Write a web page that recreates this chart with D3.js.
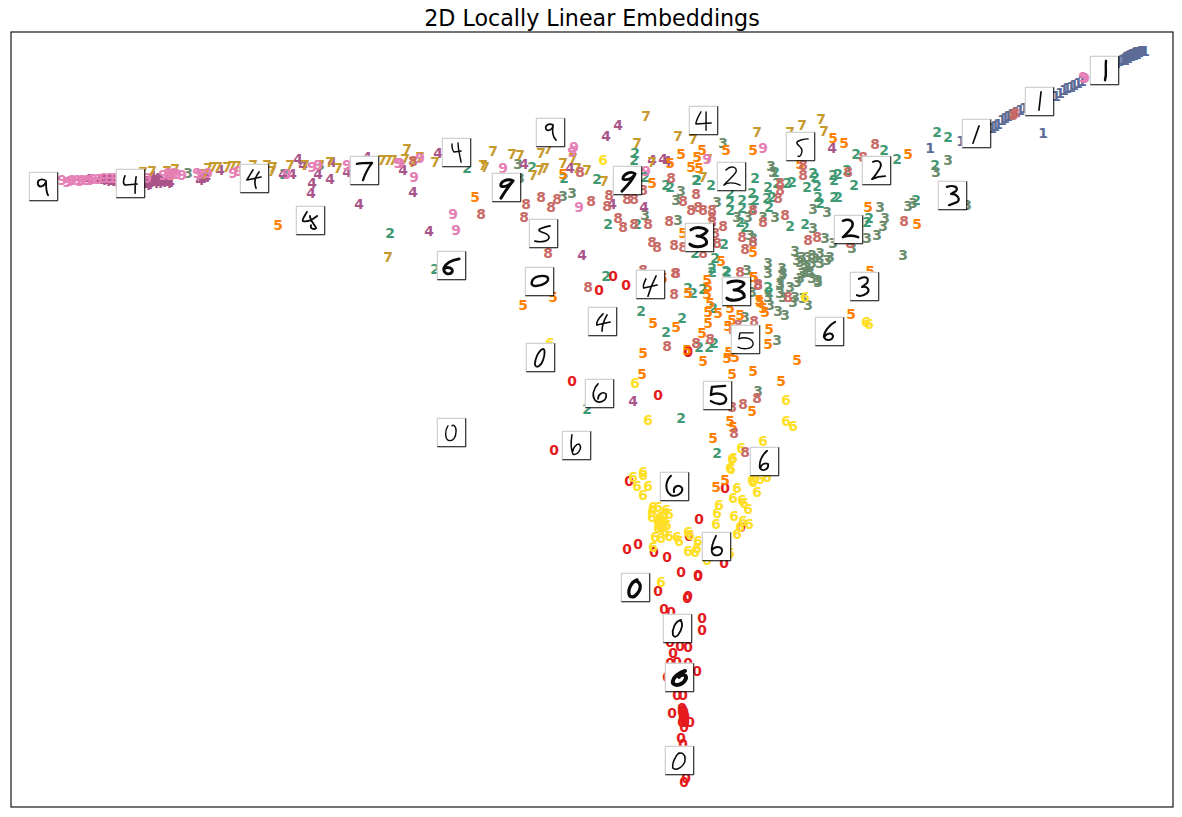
<!DOCTYPE html>
<html>
<head>
<meta charset="utf-8">
<script src="https://cdn.jsdelivr.net/npm/d3@7"></script>
<style>
  html, body { margin: 0; padding: 0; background: #fff; }
  svg { display: block; }
</style>
</head>
<body>
<svg id="chart" width="1182" height="817"></svg>
<script>
// embedding positions, one list per digit class
var digit0 = [[613,276],[626,285],[599,290],[688,352],[688,351],[572,381],[658,395],[554,450],[629,481],[725,488],[699,519],[741,527],[689,536],[638,544],[627,549],[654,552],[667,557],[724,563],[681,572],[698,575],[698,576],[658,591],[688,596],[687,598],[664,609],[671,612],[702,618],[702,630],[670,642],[680,646],[688,647],[673,653],[670,663],[677,662],[688,663],[697,671],[667,677],[677,695],[683,695],[672,713],[682,708],[682,712],[683,715],[683,718],[682,722],[685,722],[690,722],[684,727],[681,738],[683,744],[686,778],[684,782],[684,712],[683,710],[685,716],[684,720]];
var digit1 = [[930,148],[1043,133],[961,141],[992,128],[995,126],[998,124],[1002,120],[1005,118],[1008,116],[1012,114],[1016,112],[1020,110],[1024,108],[1028,107],[1056,96],[1060,93],[1064,90],[1067,88],[1071,87],[1074,85],[1078,83],[1082,81],[1116,63],[1119,61],[1122,60],[1124,59],[1126,57],[1128,56],[1130,55],[1132,54],[1133,54],[1135,53],[1136,52],[1138,52],[1139,52],[1141,51],[1142,51],[1144,51],[1145,51],[1125,60],[1128,58],[1131,56],[1134,55],[1137,54]];
var digit2 = [[937,132],[948,137],[935,165],[856,154],[884,150],[897,159],[755,178],[697,180],[711,185],[775,172],[768,187],[777,183],[787,183],[792,182],[807,187],[813,173],[815,177],[817,186],[818,197],[833,175],[838,174],[847,170],[854,185],[834,180],[834,197],[838,197],[820,203],[769,207],[767,198],[772,197],[752,193],[755,200],[730,193],[730,202],[730,210],[742,200],[742,208],[740,222],[745,227],[752,208],[790,226],[805,224],[724,244],[695,253],[712,268],[726,271],[715,258],[768,287],[769,292],[693,293],[703,289],[869,218],[867,222],[916,200],[467,168],[532,167],[564,178],[597,179],[635,153],[634,160],[608,224],[637,224],[666,185],[670,187],[696,180],[435,269],[606,276],[645,177],[641,311],[682,318],[666,332],[699,347],[709,347],[714,343],[587,409],[681,418],[717,453],[688,288],[712,272],[727,272],[713,308],[390,233],[284,174]];
var digit3 = [[723,143],[771,166],[773,172],[948,160],[936,172],[813,209],[827,212],[880,207],[908,206],[913,203],[885,218],[883,226],[877,235],[903,255],[867,238],[852,248],[833,243],[825,238],[813,228],[717,202],[737,217],[748,217],[763,217],[775,217],[750,235],[753,238],[795,251],[797,260],[802,257],[808,257],[812,255],[820,253],[830,257],[827,260],[820,263],[812,263],[807,267],[802,273],[797,282],[812,278],[818,282],[768,263],[768,273],[782,268],[782,275],[780,283],[790,287],[780,293],[747,270],[752,292],[768,297],[795,297],[783,273],[803,273],[810,272],[818,280],[780,285],[783,297],[793,302],[803,298],[808,305],[770,305],[778,311],[785,315],[745,317],[777,340],[758,391],[518,164],[563,196],[572,193],[681,191],[676,200],[645,215],[678,220],[520,178],[188,173],[320,165],[967,205],[800,262],[805,265],[815,258],[805,272],[800,278]];
var digit4 = [[88,179],[100,179],[105,179],[108,180],[112,181],[115,182],[147,185],[150,178],[157,178],[167,180],[170,182],[153,180],[160,180],[203,178],[220,170],[298,159],[283,174],[292,174],[303,165],[318,174],[330,179],[347,172],[312,183],[311,193],[359,204],[332,162],[367,157],[152,176],[243,173],[403,170],[413,192],[429,231],[438,153],[524,164],[570,168],[618,125],[606,136],[652,160],[663,159],[667,161],[644,207],[612,204],[582,255],[832,148],[633,401],[110,180],[155,183],[163,182],[150,182],[103,180],[107,181],[111,179],[114,180],[117,180],[146,181],[149,184],[156,181],[159,183],[165,181],[168,183],[200,180],[206,177]];
var digit5 = [[171,175],[278,225],[475,197],[563,174],[681,154],[670,163],[652,183],[697,157],[691,167],[699,168],[683,233],[553,297],[663,278],[688,293],[833,138],[844,143],[908,154],[753,150],[726,150],[702,150],[917,224],[868,207],[800,164],[753,252],[721,261],[754,277],[707,280],[708,287],[759,300],[870,271],[523,305],[653,323],[676,327],[643,353],[642,374],[702,333],[708,323],[718,313],[710,303],[708,312],[707,294],[730,308],[728,326],[740,315],[732,320],[760,302],[765,312],[763,308],[769,329],[768,344],[729,352],[727,358],[735,357],[703,361],[687,350],[797,360],[732,374],[753,371],[781,381],[752,411],[730,421],[733,427],[713,438],[851,314],[753,277],[716,487],[725,480]];
var digit6 = [[603,160],[805,297],[635,383],[648,420],[786,400],[786,421],[793,426],[763,441],[741,448],[732,459],[730,468],[550,343],[866,322],[869,324],[633,477],[643,472],[643,475],[637,486],[648,486],[643,495],[653,507],[652,512],[652,517],[658,507],[666,510],[669,514],[660,517],[663,518],[658,522],[665,522],[662,525],[667,525],[658,528],[665,532],[655,537],[661,538],[669,536],[677,537],[679,541],[688,532],[690,535],[698,541],[697,548],[688,551],[695,552],[653,547],[661,582],[733,458],[731,469],[737,488],[733,498],[742,500],[744,503],[748,509],[757,492],[752,480],[753,482],[760,479],[767,477],[719,505],[717,513],[716,524],[734,516],[743,521],[749,524],[737,534],[740,527],[707,560],[730,553],[660,520],[663,522],[661,527],[664,515]];
var digit7 = [[152,171],[143,172],[167,171],[175,169],[205,174],[208,168],[213,167],[218,167],[227,167],[232,166],[237,166],[253,165],[267,165],[273,167],[272,171],[290,165],[305,165],[320,165],[330,162],[338,168],[382,160],[388,160],[393,160],[388,257],[407,149],[405,159],[420,157],[435,162],[493,151],[512,154],[520,155],[483,165],[485,167],[541,153],[548,149],[563,163],[573,158],[533,175],[540,170],[545,168],[577,168],[587,170],[604,181],[637,143],[646,116],[678,136],[693,139],[652,162],[413,162],[757,132],[708,159],[703,177],[802,125],[821,119],[824,131],[790,132]];
var digit8 = [[413,161],[481,214],[526,204],[541,197],[551,207],[557,199],[524,217],[548,253],[580,172],[591,201],[609,195],[607,206],[618,218],[623,227],[634,224],[648,224],[627,199],[634,199],[671,178],[683,201],[669,221],[691,210],[696,194],[698,207],[652,242],[657,247],[674,245],[683,247],[676,273],[674,294],[588,287],[643,270],[643,190],[703,210],[712,210],[712,217],[712,222],[723,226],[715,233],[717,243],[742,237],[745,249],[753,242],[740,272],[758,284],[780,183],[780,190],[778,198],[753,210],[763,222],[785,215],[803,175],[803,165],[848,172],[875,144],[863,157],[904,221],[808,240],[817,237],[850,243],[703,253],[788,297],[675,273],[758,285],[754,321],[738,325],[733,330],[696,343],[710,339],[667,346],[732,407],[743,404],[757,398],[734,433],[745,452],[1015,113],[1013,115]];
var digit9 = [[62,180],[67,182],[72,180],[77,180],[82,180],[87,180],[93,179],[98,179],[115,178],[147,178],[163,175],[168,173],[177,174],[182,175],[197,173],[200,174],[208,173],[233,173],[238,171],[287,174],[312,167],[318,165],[347,165],[398,163],[400,163],[420,158],[414,177],[453,214],[456,230],[503,168],[574,147],[572,152],[579,207],[646,171],[707,159],[763,148],[1083,77],[1085,78],[70,181],[80,181],[90,180],[104,178],[110,178],[170,175],[174,173]];

var digitLists = [digit0, digit1, digit2, digit3, digit4, digit5, digit6, digit7, digit8, digit9];
var digitColors = ["#e41a1c", "#5b6b95", "#3f9a74", "#6b8c6c", "#a9558a", "#ff7f00", "#ffdf26", "#c79a2e", "#c96a66", "#e57fb6"];

// thumbnails of the handwritten samples: centre in the same units, stroke of the digit in a 28x28 cell
var thumbX = [43,130,254,364,310,456,550,506,543,451,539,540,451,650,602,599,576,627,703,731,699,736,745,717,800,876,848,864,829,952,976,1039,1104,764,674,716,635,677,679,679];
var thumbY = [186,183,178,170,220,152,132,187,233,265,281,357,432,284,321,393,445,180,120,176,237,291,339,395,146,170,229,286,331,195,133,101,70,461,486,546,587,628,677,760];
var thumbInk = [1.8,1.6,1.6,2.2,1.8,1.4,1.6,2.8,1.6,2.8,2.4,1.8,1.4,1.6,1.6,1.6,1.5,2.8,1.4,1.4,2.9,2.9,1.3,2.3,1.4,1.8,2.5,2,2,2.2,1.6,1.6,2.4,1.8,2,1.8,3.2,1.8,3.8,1.5];
var thumbStrokes = [
  "M17 9C13 6 8 8 9 12C10 16 15 15 17 10C17 15 17 20 19 23",
  "M9 7C7 12 7 16 10 16L21 15M20 8C19 14 19 19 19 24",
  "M13 6C10 11 8 14 7 16L21 13M19 8C15 13 14 19 16 24",
  "M7 8C12 7 17 7 22 7C18 12 15 18 13 24",
  "M11 6C9 10 6 13 7 15C11 16 16 14 21 10M14 10C14 14 18 18 20 22C17 24 14 22 15 19",
  "M10 6C10 10 11 13 12 14L19 13M16 5C16 12 18 18 19 24",
  "M17 7C12 5 9 8 10 11C12 14 16 12 17 8C16 13 17 19 20 22",
  "M21 8C15 5 8 9 9 13C12 15 18 12 21 8C17 13 13 18 9 25",
  "M21 7C16 8 11 9 10 11C10 14 19 13 20 18C20 23 11 23 6 22",
  "M22 8C16 9 9 12 7 17C6 23 13 24 15 21C17 17 10 15 7 18",
  "M7 15C8 9 18 8 22 10C26 14 17 19 11 19C8 19 6 17 7 15",
  "M17 6C12 8 9 17 9 21C10 26 15 23 17 17C19 12 19 6 17 6",
  "M11 8C8 12 8 20 11 22C16 24 19 19 19 13C19 8 16 6 15 8",
  "M10 9C8 13 7 17 8 18L21 15M20 6C17 12 14 19 12 26",
  "M15 7C11 11 8 15 9 18L22 15M19 8C16 13 14 18 14 24",
  "M13 5C8 10 7 17 10 21C14 25 22 22 21 15C18 12 13 15 13 20",
  "M10 4C9 10 9 18 11 23C15 25 21 17 17 13C14 13 11 17 11 20",
  "M22 8C17 4 10 9 10 13C14 15 20 12 22 8C19 15 14 20 9 25",
  "M12 6C9 11 7 15 7 18L22 17M17 6L17 24",
  "M9 8C14 3 20 5 19 10C16 15 8 21 7 23C10 20 17 20 23 23",
  "M6 7C11 3 20 5 22 8C20 12 14 14 12 13C17 13 23 16 21 21C16 25 8 24 5 21",
  "M6 6C11 3 21 4 22 7C20 11 14 13 12 13C17 13 23 15 22 20C16 24 8 24 5 21",
  "M22 8L9 8L8 14C14 11 22 14 22 19C21 25 11 24 7 22",
  "M22 5L9 6L8 14C14 11 22 13 23 18C23 24 14 24 8 20",
  "M22 7C17 7 12 9 11 10C10 13 15 14 16 18C16 22 14 25 12 24",
  "M11 6C18 3 20 8 18 12C15 17 12 21 10 23C14 21 19 20 23 20",
  "M9 6C16 3 20 7 18 12C15 17 11 20 9 22C14 20 19 20 24 22",
  "M9 7C14 4 20 5 17 11L12 15C18 14 20 18 17 21C13 24 9 24 7 23",
  "M20 5C14 8 9 15 9 20C11 24 17 24 18 19C17 15 12 16 10 19",
  "M9 6C15 4 21 6 18 10L13 13C19 13 23 18 19 21L11 24",
  "M17 7L11 24",
  "M16 5L14 23",
  "M16 5C15 12 17 17 15 24",
  "M17 4C11 9 9 16 10 21C13 25 19 22 18 17C15 15 11 18 11 20",
  "M11 4C5 10 5 19 11 23C17 25 23 21 22 16C19 12 13 14 14 20",
  "M14 4C11 10 9 16 10 20C12 25 20 24 20 18C19 14 13 14 10 18",
  "M16 7C10 9 6 18 9 23C14 26 20 17 19 12C18 9 15 7 13 9",
  "M18 6C12 7 9 16 10 21C13 26 18 18 19 12C19 8 18 6 16 7",
  "M20 8C16 9 7 14 8 20C11 24 19 21 21 15C21 11 16 11 14 14",
  "M14 7C10 10 7 18 8 22C12 25 20 20 20 13C20 8 17 6 13 8"
];

var chartTitle = "2D Locally Linear Embeddings";

var svg = d3.select("#chart");
var plotLeft = 11, plotRight = 1173, plotTop = 32, plotBottom = 807;

var xScale = d3.scaleLinear().domain([11, 1173]).range([plotLeft, plotRight]);
var yScale = d3.scaleLinear().domain([32, 807]).range([plotTop, plotBottom]);

// draws the digit labels, all classes
function desenhaDigitos() {
  digitLists.forEach(function(list, digit) {
    svg.append("g").selectAll("text")
      .data(list)
      .enter()
      .append("text")
      .attr("x", function(d) { return xScale(d[0]); })
      .attr("y", function(d) { return yScale(d[1]); })
      .attr("dy", "0.36em")
      .attr("text-anchor", "middle")
      .attr("font-family", "DejaVu Sans")
      .attr("font-weight", "bold")
      .attr("font-size", "13.9px")
      .attr("fill", digitColors[digit])
      .text(digit);
  });
}

// draws the thumbnails over the labels
function desenhaMiniaturas() {
  var size = 28.5, half = size / 2;
  var cell = d3.scaleLinear().domain([0, 28]).range([0, size]);
  var k = cell(1);

  var g = svg.append("g").selectAll("g")
    .data(thumbX)
    .enter()
    .append("g")
    .attr("transform", function(d, i) {
      return "translate(" + (xScale(d) - half) + "," + (yScale(thumbY[i]) - half) + ")";
    });

  g.append("rect")
    .attr("width", size).attr("height", size)
    .attr("fill", "#fff");
  g.append("path")
    .attr("d", "M0.5 " + size + "V0.5H" + size)
    .attr("fill", "none").attr("stroke", "#c4c4c4").attr("stroke-width", 1);
  g.append("path")
    .attr("d", "M0.5 " + (size + 0.5) + "H" + (size + 0.5) + "V0.5")
    .attr("fill", "none").attr("stroke", "#000").attr("stroke-width", 1);
  g.append("path")
    .attr("transform", "scale(" + k + ")")
    .attr("d", function(d, i) { return thumbStrokes[i]; })
    .attr("fill", "none")
    .attr("stroke", "#0a0a0a")
    .attr("stroke-linecap", "round")
    .attr("stroke-linejoin", "round")
    .attr("stroke-width", function(d, i) { return thumbInk[i]; });
}

// frame and title
function desenhaMoldura() {
  svg.append("rect")
    .attr("x", plotLeft).attr("y", plotTop)
    .attr("width", plotRight - plotLeft).attr("height", plotBottom - plotTop)
    .attr("fill", "none").attr("stroke", "#000").attr("stroke-width", 1.1);
  svg.append("text")
    .attr("x", (plotLeft + plotRight) / 2)
    .attr("y", 26)
    .attr("text-anchor", "middle")
    .attr("font-family", "DejaVu Sans")
    .attr("font-size", "22.2px")
    .attr("fill", "#000")
    .text(chartTitle);
}

desenhaDigitos();
desenhaMiniaturas();
desenhaMoldura();
</script>
</body>
</html>
